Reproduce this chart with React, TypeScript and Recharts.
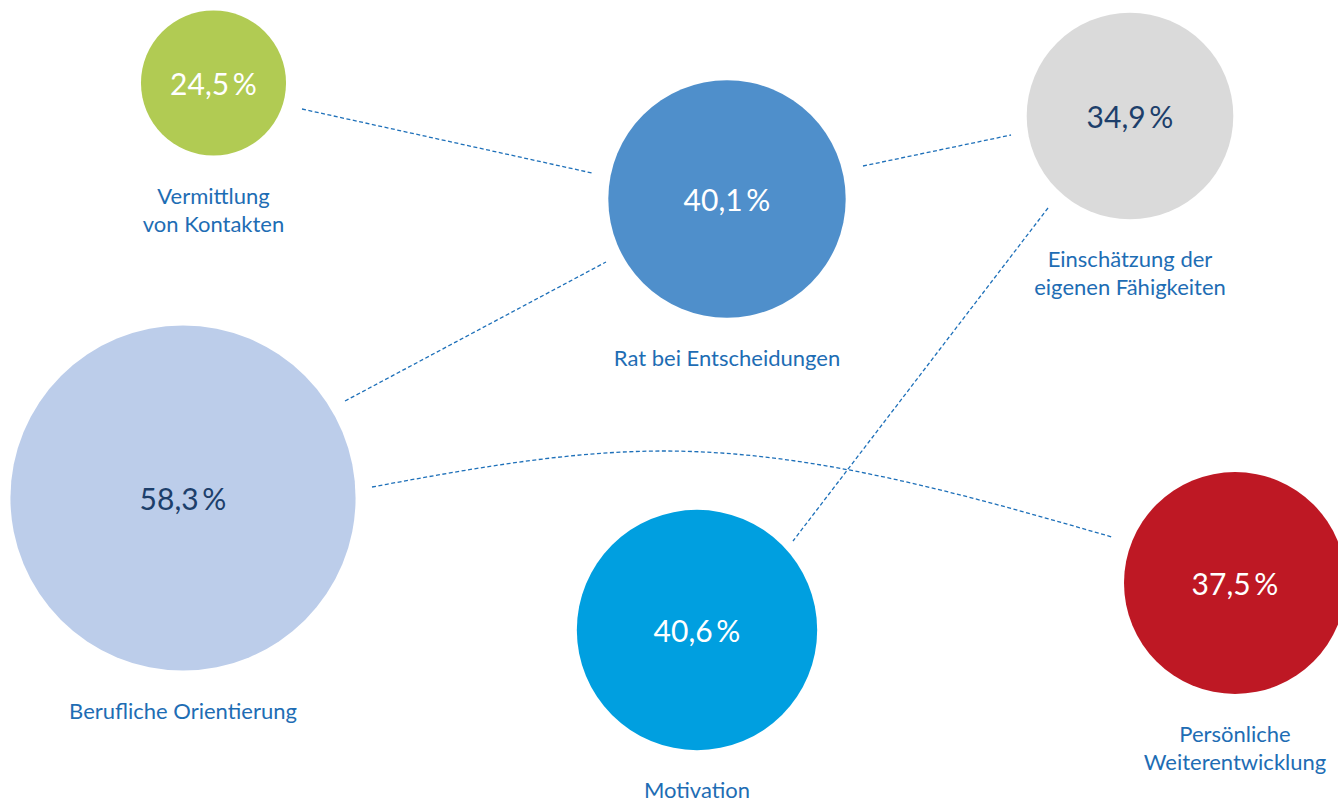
import { ScatterChart, Scatter, XAxis, YAxis, Curve } from 'recharts';

// bubble layout (chart units: 1 unit = 1px on a 1338 x 802 canvas)
const labels = [
  ['Vermittlung', 'von Kontakten'],
  ['Rat bei Entscheidungen'],
  ['Einschätzung der', 'eigenen Fähigkeiten'],
  ['Berufliche Orientierung'],
  ['Motivation'],
  ['Persönliche', 'Weiterentwicklung'],
];
const values = [24.5, 40.1, 34.9, 58.3, 40.6, 37.5];
const xPos = [213.5, 727, 1130, 183, 697, 1235];
const yPos = [83, 199, 116, 498, 630, 583];
const fills = ['#b1cb53', '#4f8fcb', '#dadada', '#bccdea', '#009fe0', '#be1824'];
const valueColors = ['#ffffff', '#ffffff', '#1d3f6b', '#1d3f6b', '#ffffff', '#ffffff'];

// dashed connectors
const linkPoints = [
  [[302, 109], [592, 173]],
  [[345, 401], [606, 262]],
  [[863, 166], [1011, 135]],
  [[1048, 208], [793, 541]],
  [[372, 487], [664, 451], [1112, 537]],
];

const W = 1338;
const H = 802;
const RADIUS_PER_PCT = 2.96;
const FONT = 'Lato, "Open Sans", sans-serif';
const LABEL_COLOR = '#1e6db4';
const LINK_COLOR = '#1e70b9';

const bubbles = values.map((v, i) => ({
  x: xPos[i],
  y: yPos[i],
  value: v,
  lines: labels[i],
  fill: fills[i],
  textColor: valueColors[i],
}));

const links = linkPoints.map((pts) => pts.map(([x, y]) => ({ x, y })));

function Bubble(props: any) {
  const { cx, cy, payload } = props;
  const r = payload.value * RADIUS_PER_PCT;
  return (
    <g>
      <circle cx={cx} cy={cy} r={r} fill={payload.fill} />
      <text
        x={cx}
        y={cy + 12}
        textAnchor="middle"
        fill={payload.textColor}
        fontSize={30}
        fontFamily={FONT}
      >
        {payload.value.toFixed(1).replace('.', ',') + '\u2009%'}
      </text>
      {payload.lines.map((line: string, k: number) => (
        <text
          key={k}
          x={cx}
          y={cy + r + 48 + k * 28}
          textAnchor="middle"
          fill={LABEL_COLOR}
          fontSize={22}
          fontFamily={FONT}
        >
          {line}
        </text>
      ))}
    </g>
  );
}

const noDot = () => <g />;

export default function App() {
  return (
    <div style={{ position: 'absolute', left: 0, top: 0, background: '#fff' }}>
      <ScatterChart width={W} height={H} margin={{ top: 0, right: 0, bottom: 0, left: 0 }}>
        <XAxis type="number" dataKey="x" domain={[0, W]} allowDataOverflow hide />
        <YAxis type="number" dataKey="y" domain={[0, H]} allowDataOverflow reversed hide />
        {links.map((data, i) => (
          <Scatter
            key={`link-${i}`}
            data={data}
            isAnimationActive={false}
            shape={noDot}
            line={(p: any) => (
              <Curve
                points={p.points}
                type={data.length > 2 ? 'monotoneX' : 'linear'}
                fill="none"
                stroke={LINK_COLOR}
                strokeWidth={1.3}
                strokeDasharray="4 2.5"
              />
            )}
          />
        ))}
        <Scatter data={bubbles} isAnimationActive={false} shape={<Bubble />} />
      </ScatterChart>
    </div>
  );
}
